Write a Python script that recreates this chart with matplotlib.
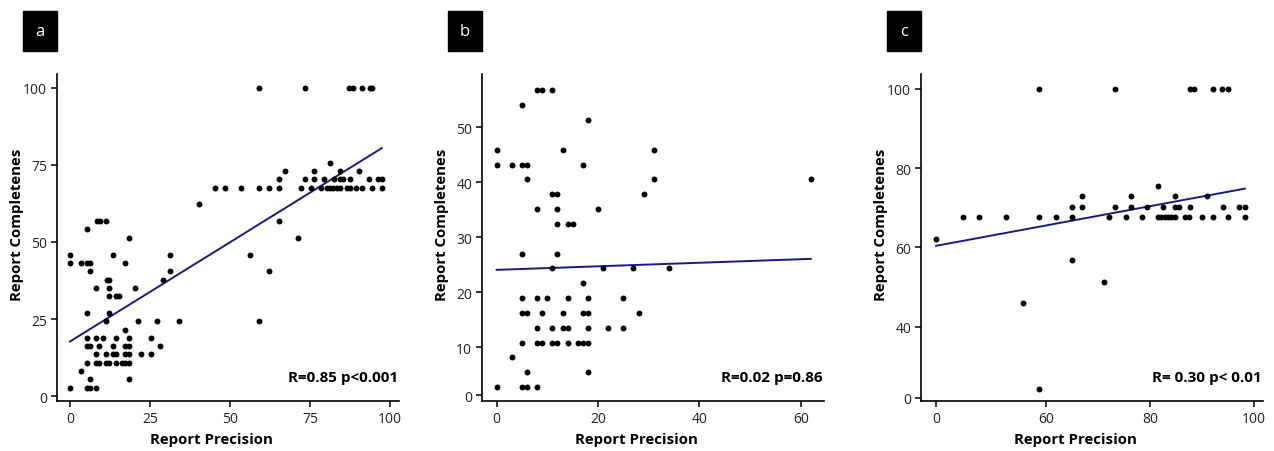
import numpy as np
import matplotlib
matplotlib.use("Agg")
import matplotlib.pyplot as plt
from matplotlib.patches import Rectangle

# Data (y value -> x values at that level)
a_rows = {
    100.0: [59.2, 73.3, 87.2, 88.3, 91.3, 93.8, 94.4],
    75.7: [81.3],
    73.0: [67.3, 76.3, 84.3, 90.3],
    70.3: [65.2, 73.3, 76.3, 79.3, 82.4, 84.3, 85.4, 87.4, 93.3, 96.3, 97.4],
    67.6: [45.2, 48.3, 53.3, 59.2, 62.3, 65.2, 72.2, 75.2, 78.3, 80.3, 81.3,
           82.3, 83.4, 84.4, 86.4, 87.4, 89.3, 91.3, 94.4, 97.4],
    62.2: [40.2],
    56.8: [8.4, 9.4, 11.2, 65.2],
    54.1: [5.2],
    51.4: [18.3, 71.3],
    45.9: [0, 13.3, 31.3, 56.2],
    43.2: [0, 3.4, 5.2, 6.3, 17.2],
    40.5: [6.3, 31.3, 62.2],
    37.8: [11.5, 12.3, 29.2],
    35.1: [8.2, 12.3, 20.4],
    32.4: [12.3, 14.3, 15.4],
    27.0: [5.2, 12.3],
    24.3: [11.3, 21.2, 27.2, 34.2, 59.2],
    21.6: [17.2],
    18.9: [5.2, 8.2, 10.2, 14.3, 18.3, 25.3],
    16.2: [5.2, 6.3, 9.2, 13.3, 17.2, 18.3, 28.2],
    13.5: [8.2, 11.2, 13.3, 14.3, 17.2, 18.3, 22.2, 25.3],
    10.8: [5.2, 8.2, 9.2, 11.2, 12.3, 14.3, 16.3, 17.2, 18.3],
    8.1: [3.4],
    5.4: [6.3, 18.3],
    2.7: [0, 5.2, 6.3, 8.2],
}
b_rows = {
    56.8: [8, 9, 11],
    54.1: [5],
    51.4: [18],
    45.9: [0, 13, 31],
    43.2: [0, 3, 5, 6, 17],
    40.5: [6, 31, 62],
    37.8: [11, 12, 29],
    35.1: [8, 12, 20],
    32.4: [12, 14, 15],
    27.0: [5, 12],
    24.3: [11, 21, 27, 34],
    21.6: [17],
    18.9: [5, 8, 10, 14, 18, 25],
    16.2: [5, 6, 9, 13, 17, 18, 28],
    13.5: [8, 11, 13, 14, 18, 22, 25],
    10.8: [5, 8, 9, 11, 12, 14, 16, 17, 18],
    8.1: [3],
    5.4: [6, 18],
    2.7: [0, 5, 6, 8],
}
c_rows = {
    100.0: [58.7, 73.3, 87.7, 88.5, 92.0, 93.9, 95.0],
    75.6: [81.5],
    72.9: [67.0, 76.3, 84.7, 90.9],
    70.2: [65.0, 67.0, 73.3, 76.3, 79.5, 82.5, 84.7, 85.6, 87.7, 94.0, 97.1, 98.2],
    67.6: [44.1, 47.2, 52.4, 58.7, 61.9, 65.0, 72.2, 75.3, 78.4, 81.5, 82.1,
           82.8, 83.4, 84.1, 84.7, 86.7, 87.4, 89.9, 92.0, 95.0, 98.2],
    62.2: [38.9],
    56.8: [65.0],
    51.4: [71.1],
    45.9: [55.5],
    24.3: [58.7],
}

# regression lines (intercept, slope)
a_fit = (17.7, 0.644)
b_fit = (24.05, 0.0323)
c_fit = (50.95, 0.243)

stats = ["R=0.85 p<0.001", "R=0.02 p=0.86", "R= 0.30 p< 0.01"]
letters = ["a", "b", "c"]

a_xticks = [0, 25, 50, 75, 100]
a_yticks = [0, 25, 50, 75, 100]
b_xticks = [0, 20, 40, 60]
b_yticks = [1.2, 10, 20, 30, 40, 50]
b_ylabels = ["0", "10", "20", "30", "40", "50"]
c_xticks = [38.9, 60, 80, 100]
c_xlabels = ["0", "60", "80", "100"]
c_yticks = [22.15, 40, 60, 80, 100]
c_ylabels = ["0", "40", "60", "80", "100"]

plt.rcParams["font.family"] = ["Open Sans", "DejaVu Sans"]


def flatten(rows):
    xs, ys = [], []
    for y, xl in rows.items():
        xs += list(xl)
        ys += [y] * len(xl)
    return np.array(xs, float), np.array(ys, float)


fig = plt.figure(figsize=(12.74, 4.52), dpi=100)

panels = [
    (a_rows, a_fit, (-4.06, 102.8), (-1.6, 104.5), a_xticks, None, a_yticks, None, 0.0447),
    (b_rows, b_fit, (-2.9, 64.6), (0.18, 59.7), b_xticks, None, b_yticks, b_ylabels, 0.3783),
    (c_rows, c_fit, (36.0, 101.7), (21.3, 103.7), c_xticks, c_xlabels, c_yticks, c_ylabels, 0.7229),
]

for i, (rows, fit, xl, yl, xt, xtl, yt, ytl, left) in enumerate(panels):
    ax = fig.add_axes([left, 0.1106, 0.2685, 0.7235])
    x, y = flatten(rows)
    ax.scatter(x, y, s=18, color="black", linewidths=0, zorder=3)
    lx = np.array([x.min(), x.max()])
    ax.plot(lx, fit[0] + fit[1] * lx, color="#1a1a80", lw=1.4, zorder=2)

    ax.set_xlim(xl)
    ax.set_ylim(yl)
    ax.set_xticks(xt)
    ax.set_yticks(yt)
    if xtl:
        ax.set_xticklabels(xtl)
    if ytl:
        ax.set_yticklabels(ytl)
    for s in ["top", "right"]:
        ax.spines[s].set_visible(False)
    for s in ["left", "bottom"]:
        ax.spines[s].set_linewidth(1.2)
    ax.tick_params(direction="out", length=4, width=1.1, labelsize=10,
                   labelcolor="#222222", pad=3)

    ax.text(0.453, -0.116, "Report Precision", transform=ax.transAxes,
            ha="center", va="center", fontsize=10.8, fontweight="bold")
    ax.text(-0.117, 0.541, "Report Completenes", transform=ax.transAxes,
            ha="center", va="center", rotation=90, fontsize=10.8,
            fontweight="bold")
    ax.text(0.997, 0.073, stats[i], transform=ax.transAxes, ha="right",
            va="center", fontsize=11, fontweight="bold")

    # panel letter box
    bx = left - 34 / 1274
    fig.patches.append(Rectangle((bx, 1 - 52 / 452), 34 / 1274, 40 / 452,
                                 transform=fig.transFigure, color="black"))
    fig.text(bx + 17 / 1274, 1 - 32 / 452, letters[i], color="white",
             ha="center", va="center", fontsize=12)

fig.savefig("out.png", dpi=100)
